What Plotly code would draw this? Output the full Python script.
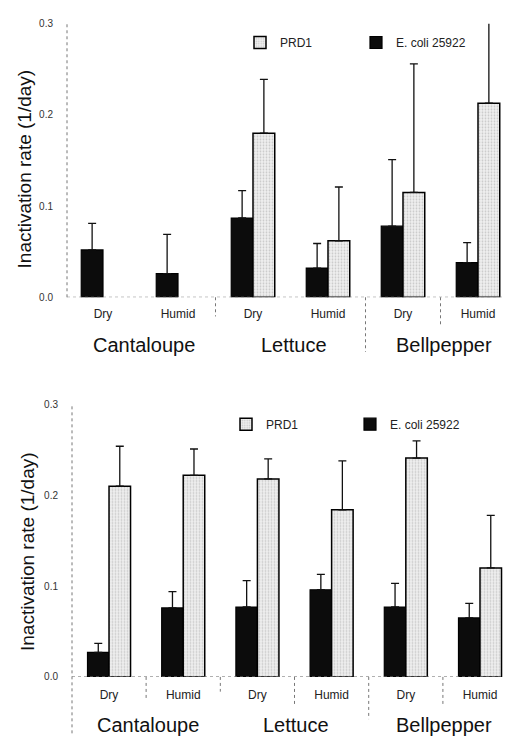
import plotly.graph_objects as go

# ---------------- data ----------------
conditions = ["Dry", "Humid", "Dry", "Humid", "Dry", "Humid"]
produce = ["Cantaloupe", "Lettuce", "Bellpepper"]
positions = [0, 1, 2, 3, 4, 5]
y_ticks = [0.0, 0.1, 0.2, 0.3]

# top panel
top_ecoli = [0.052, 0.026, 0.087, 0.032, 0.078, 0.038]
top_ecoli_sd = [0.029, 0.043, 0.030, 0.027, 0.073, 0.022]
top_prd1 = [None, None, 0.180, 0.062, 0.115, 0.213]
top_prd1_sd = [None, None, 0.059, 0.059, 0.141, 0.090]

# bottom panel
bot_ecoli = [0.027, 0.076, 0.077, 0.096, 0.077, 0.065]
bot_ecoli_sd = [0.010, 0.018, 0.029, 0.017, 0.026, 0.016]
bot_prd1 = [0.210, 0.222, 0.218, 0.184, 0.241, 0.120]
bot_prd1_sd = [0.044, 0.029, 0.022, 0.054, 0.019, 0.058]

FONT = "Liberation Sans, Arial, sans-serif"
OFF = 8                 # browser body margin
W, H = 512 - OFF, 739 - OFF


def px(x):
    return (x - OFF) / W


def py(y):
    return 1 - (y - OFF) / H


fig = go.Figure()


def add_panel(ecoli, ecoli_sd, prd1, prd1_sd, xa, ya, legend):
    fig.add_trace(go.Bar(
        x=positions, y=ecoli, name="E. coli 25922",
        xaxis=xa, yaxis=ya, legend=legend, legendrank=2,
        offsetgroup="e",
        marker=dict(color="#0c0c0c", line=dict(color="#000", width=1.2)),
        error_y=dict(type="data", symmetric=False, array=ecoli_sd,
                     arrayminus=[0] * len(ecoli), color="#111",
                     thickness=1.3, width=4),
        cliponaxis=False,
    ))
    fig.add_trace(go.Bar(
        x=positions, y=prd1, name="PRD1",
        xaxis=xa, yaxis=ya, legend=legend, legendrank=1,
        offsetgroup="p",
        marker=dict(color="#e6e6e6",
                    line=dict(color="#000", width=1.5),
                    pattern=dict(shape=".", fgcolor="#a0a0a0", bgcolor="#f0f0f0",
                                 size=3, solidity=0.3)),
        error_y=dict(type="data", symmetric=False,
                     array=[0 if v is None else v for v in prd1_sd],
                     arrayminus=[0] * len(prd1), color="#111",
                     thickness=1.3, width=4),
        cliponaxis=False,
    ))


add_panel(top_ecoli, top_ecoli_sd, top_prd1, top_prd1_sd, "x", "y", "legend")
add_panel(bot_ecoli, bot_ecoli_sd, bot_prd1, bot_prd1_sd, "x2", "y2", "legend2")

xcommon = dict(tickvals=positions, ticktext=conditions, showgrid=False,
               zeroline=False, showline=False, ticks="",
               tickfont=dict(family=FONT, size=12, color="#222"))
ycommon = dict(range=[0, 0.3], tickvals=y_ticks, tickformat=".1f",
               showgrid=False, zeroline=False, showline=False,
               ticks="", ticklabelstandoff=13,
               tickfont=dict(family=FONT, size=10, color="#333"))

fig.update_layout(
    width=W, height=H,
    margin=dict(l=0, r=0, t=0, b=0),
    paper_bgcolor="white", plot_bgcolor="white",
    barmode="group", bargap=0.42, bargroupgap=0,
    xaxis=dict(domain=[px(67), px(512)], range=[-0.48, (512 - 103) / 75], anchor="y",
               ticklabelstandoff=8, **xcommon),
    yaxis=dict(domain=[py(296), py(18)], anchor="x", **ycommon),
    xaxis2=dict(domain=[px(72), px(512)], range=[-0.499, (512 - 109) / 74.2], anchor="y2",
                ticklabelstandoff=9, **xcommon),
    yaxis2=dict(domain=[py(682), py(405)], anchor="x2", **ycommon),
    legend=dict(orientation="h", x=px(240), xanchor="left",
                y=py(37), yanchor="middle", bgcolor="rgba(0,0,0,0)",
                entrywidth=71, entrywidthmode="pixels",
                font=dict(family=FONT, size=12, color="#222")),
    legend2=dict(orientation="h", x=px(226), xanchor="left",
                 y=py(425), yanchor="middle", bgcolor="rgba(0,0,0,0)",
                 entrywidth=79, entrywidthmode="pixels",
                 font=dict(family=FONT, size=12, color="#222")),
)

shapes = []
dot = dict(color="#777", width=1, dash="dot")
for xa, ya in (("x", "y"), ("x2", "y2")):
    shapes.append(dict(type="line", xref=f"{xa} domain", x0=0, x1=1,
                       yref=ya, y0=0, y1=0, line=dot))
shapes.append(dict(type="line", xref="x domain", x0=0, x1=0,
                   yref="y domain", y0=0, y1=1, line=dot))
shapes.append(dict(type="line", xref="x2 domain", x0=0, x1=0,
                   yref="y2 domain", y0=-0.207, y1=1, line=dot))
for xs, yb in ((1.5, -0.07), (3.5, -0.20), (4.5, -0.10)):
    shapes.append(dict(type="line", xref="x", x0=xs, x1=xs,
                       yref="y domain", y0=0, y1=yb, line=dot))
for xs, yb in ((0.5, -0.083), (1.5, -0.054), (2.5, -0.10),
               (3.5, -0.155), (4.5, -0.10)):
    shapes.append(dict(type="line", xref="x2", x0=xs, x1=xs,
                       yref="y2 domain", y0=0, y1=yb, line=dot))
fig.update_layout(shapes=shapes)

annotations = []
for i, name in enumerate(produce):
    annotations.append(dict(text=name, xref="x", x=2 * i + 0.55, yref="paper",
                            y=py(345), yanchor="middle", showarrow=False,
                            font=dict(family=FONT, size=20, color="#111")))
    annotations.append(dict(text=name, xref="x2", x=2 * i + 0.52, yref="paper",
                            y=py(731), yanchor="middle", showarrow=False,
                            font=dict(family=FONT, size=20, color="#111")))
for xc, yc in ((24, 166), (27, 555)):
    annotations.append(dict(text="Inactivation rate (1/day)", textangle=-90,
                            xref="paper", x=px(xc), yref="paper", y=py(yc),
                            xanchor="center", yanchor="middle", showarrow=False,
                            font=dict(family=FONT, size=19, color="#111")))
fig.update_layout(annotations=annotations)

fig.write_html("out.html")
